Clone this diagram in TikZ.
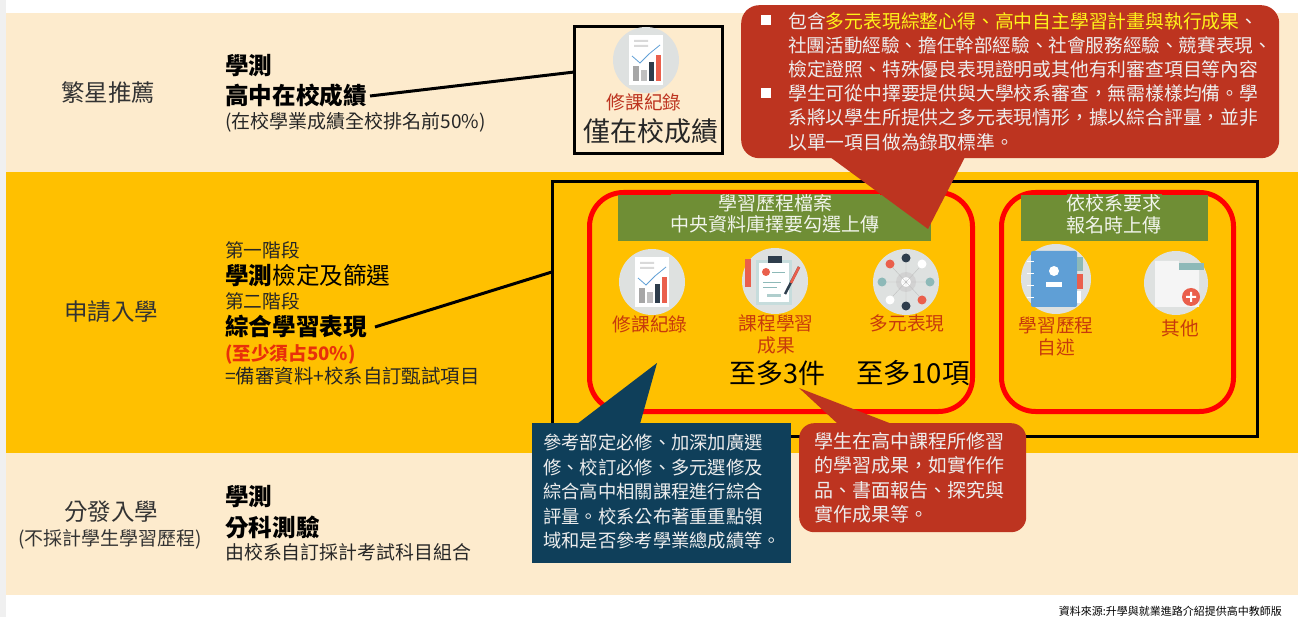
\documentclass[tikz,border=0pt]{standalone}
\usepackage{fontspec}
\setmainfont{Noto Sans CJK TC}
\usetikzlibrary{calc}
\definecolor{bandcream}{HTML}{FDEBCD}
\definecolor{bandgold}{HTML}{FFC000}
\definecolor{callred}{HTML}{BD3420}
\definecolor{callblue}{HTML}{0F3F5A}
\definecolor{headgreen}{HTML}{6F8E35}
\definecolor{labelred}{HTML}{C73A0C}
\definecolor{notered}{HTML}{E8300A}
\definecolor{icongray}{HTML}{DEE1E0}
\definecolor{icondark}{HTML}{2E3D4C}
\definecolor{iconteal}{HTML}{8DB9B8}
\definecolor{iconred}{HTML}{EA5F4C}
\definecolor{iconblue}{HTML}{5F9FD6}
\newcommand{\fs}[2]{\fontsize{#1}{#2}\selectfont}
\tikzset{
  chartdoc/.pic={
    \fill[icongray] (0,0) circle (33);
    \fill[white] (-17,-25) rectangle (17,25);
    \fill[black!15] (-12,-20) rectangle (2,-18) (-12,-15) rectangle (2,-13);
    \fill[gray!70] (-13,6) rectangle (-7,21);
    \fill[gray!50] (-5,10) rectangle (1,21);
    \fill[icondark] (3,2) rectangle (8,21);
    \fill[iconred] (10,-5) rectangle (15,21);
    \draw[iconblue,thick] (-14,-4) -- (-6,3) -- (3,-6) -- (14,-15);
  },
  clipdoc/.pic={
    \fill[icongray] (0,0) circle (33);
    \fill[iconteal!50] (-19,-21) rectangle (17,24);
    \fill[white] (-16,-18) rectangle (14,21);
    \fill[icondark] (-7,-25) rectangle (7,-18);
    \fill[iconred] (-30,-22) rectangle (-24,6);
    \fill[iconred] (-9,-9) circle (4);
    \draw[iconteal] (-3,-9) -- (10,-9) (-12,1) -- (6,1) (-12,6) -- (2,6);
    \draw[iconteal!70,line width=3pt] (-8,15) -- (6,15);
    \draw[icondark,line width=2.5pt] (10,13) -- (24,-14);
    \draw[iconred,line width=2.5pt] (16,2) -- (24,-14);
  },
  netdoc/.pic={
    \fill[icongray] (0,0) circle (33);
    \fill[gray!35] (0,0) circle (10);
    \fill[white] (0,0) circle (5);
    \fill[icondark] (0,-24) circle (4.5) (0,24) circle (4.5);
    \fill[iconred] (-16,-18) circle (4.5) (16,18) circle (4.5);
    \fill[white] (16,-18) circle (4.5) (-16,18) circle (4.5);
    \fill[iconteal] (-24,0) circle (4.5) (24,0) circle (4.5);
    \draw[gray!50] (0,-20) -- (0,20) (-20,0) -- (20,0) (-13,-14) -- (13,14) (13,-14) -- (-13,14);
  },
  notedoc/.pic={
    \fill[icongray] (0,0) circle (35);
    \fill[iconblue,rounded corners=2pt] (-25,-28) rectangle (21,28);
    \fill[iconteal] (21,-22) rectangle (27,-8);
    \fill[iconred] (21,-5) rectangle (27,10);
    \fill[white] (21,12) rectangle (25,24);
    \fill[white] (-2,-8) circle (5);
    \fill[white] (-10,8) rectangle (6,3);
    \draw[white,thick] (-29,-18) -- (-22,-18) (-29,-6) -- (-22,-6) (-29,6) -- (-22,6) (-29,18) -- (-22,18);
  },
  folderdoc/.pic={
    \fill[icongray] (0,0) circle (32);
    \fill[white!92!gray] (-21,-22) -- (3,-22) -- (3,-14) -- (23,-14) -- (23,24) -- (-21,24) -- cycle;
    \fill[iconteal] (3,-20) rectangle (28,-13);
    \fill[iconred] (15,14) circle (9);
    \fill[white] (10,13) rectangle (20,15) (14,9) rectangle (16,19);
  },
  band/.style={fill=#1,draw=none,inner sep=0pt,anchor=north west},
  entry/.style={anchor=west,inner sep=0pt,text=black!85,font=\fs{18.7}{22}},
  entrybold/.style={anchor=west,inner sep=0pt,text=black,font=\fs{23.6}{28}\bfseries},
  route/.style={anchor=center,inner sep=0pt,align=center,text=black!80,font=\fs{23.5}{27}},
  link/.style={line width=3pt,black},
  frame/.style={draw=black,line width=3pt,inner sep=0pt,outer sep=0pt,anchor=north west},
  redframe/.style={draw=red,line width=5pt,rounded corners=34pt,inner sep=0pt,outer sep=0pt,anchor=north west},
  head/.style={fill=headgreen,text=white!90!headgreen,inner sep=0pt,align=center,anchor=north west,font=\fs{19}{21.5}},
  itemlabel/.style={anchor=center,inner sep=0pt,align=center,text=labelred,font=\fs{18.7}{22}},
  limit/.style={anchor=center,inner sep=0pt,text=black,font=\fs{27}{30}},
  callbox/.style={fill=#1,rounded corners=18pt,inner sep=0pt,anchor=north west},
  calltext/.style={anchor=north west,inner sep=0pt,align=left,text=white!93!black},
}
\begin{document}
\begin{tikzpicture}[x=1pt,y=-1pt]
  \useasboundingbox (0,0) rectangle (1298,617);
  \fill[white] (0,0) rectangle (1298,617);
  \fill[black!6] (0,0) rectangle (6,617);

  \node[band=bandcream,minimum width=1292pt,minimum height=159pt] (bandtop) at (6,13) {};
  \node[band=bandgold,minimum width=1292pt,minimum height=281pt] (bandmid) at (6,172) {};
  \node[band=bandcream,minimum width=1292pt,minimum height=142pt] (bandlow) at (6,453) {};

  \node[route] (star) at (108,93) {繁星推薦};
  \node[route] (apply) at (111,312) {申請入學};
  \node[route] (place) at (111,512) {分發入學};
  \node[route,font=\fs{19}{22}] (placenote) at (110,539) {(不採計學生學習歷程)};

  \node[entrybold] (startest) at (225,66) {學測};
  \node[entrybold] (starscore) at (225,96) {高中在校成績};
  \node[entry,font=\fs{19}{22}] (starnote) at (225,122) {(在校學業成績全校排名前50\%)};

  \node[entry] (stageone) at (225,250) {第一階段};
  \node[entrybold] (stageonetext) at (225,276) {學測\mdseries 檢定及篩選};
  \node[entry] (stagetwo) at (225,301) {第二階段};
  \node[entrybold] (stagetwotext) at (225,327) {綜合學習表現};
  \node[entry,text=notered,font=\fs{18.6}{22}\bfseries] (stagenote) at (225,354) {(至少須占50\%)};
  \node[entry,font=\fs{19.4}{22}] (stagesum) at (225,376) {=備審資料+校系自訂甄試項目};

  \node[entrybold] (placetest) at (225,497) {學測};
  \node[entrybold] (placeexam) at (225,527) {分科測驗};
  \node[entry,font=\fs{18.9}{22}] (placenote2) at (225,552) {由校系自訂採計考試科目組合};

  \node[frame,minimum width=148pt,minimum height=127pt] (scorebox) at (574,27) {};
  \pic at (646,60) {chartdoc};
  \node[itemlabel,text=callred] (scorelabel) at (644,102) {修課紀錄};
  \node[limit,text=black!85] (scoretext) at (651,131) {僅在校成績};

  \node[frame,minimum width=705pt,minimum height=254pt] (portfolio) at (552,182) {};

  \draw[link] ($(starscore.east)+(3,0)$) -- (scorebox.166);
  \draw[link] ($(stagetwotext.east)+(8,0)$) -- (portfolio.174);

  \node[redframe,minimum width=383pt,minimum height=219pt] (central) at (589.5,192.5) {};
  \node[redframe,minimum width=232pt,minimum height=219pt] (upload) at (1001.5,192.5) {};

  \node[head,minimum width=313pt,minimum height=46pt] (centralhead) at (618,195) {};
  \node[head,anchor=center] (centraltext) at (775,214) {學習歷程檔案\\中央資料庫擇要勾選上傳};
  \node[head,minimum width=187pt,minimum height=46pt] (uploadhead) at (1021,195) {};
  \node[head,anchor=center] (uploadtext) at (1114,214) {依校系要求\\報名時上傳};

  \pic at (652,282) {chartdoc};
  \pic at (775,281) {clipdoc};
  \pic at (906,282) {netdoc};
  \pic at (1056,279) {notedoc};
  \pic at (1176,283) {folderdoc};

  \node[itemlabel] (record) at (650,324) {修課紀錄};
  \node[itemlabel] (course) at (776,334) {課程學習\\成果};
  \node[itemlabel] (multi) at (907,323) {多元表現};
  \node[itemlabel] (self) at (1056,336) {學習歷程\\自述};
  \node[itemlabel] (other) at (1180,328) {其他};

  \node[limit] (limitthree) at (777,373) {至多3件};
  \node[limit,font=\fs{27.5}{30}] (limitten) at (913,373) {至多10項};

  % callouts
  \node[callbox=callred,minimum width=538pt,minimum height=153pt] (calltop) at (741,5) {};
  \coordinate (calltopa) at (830,157);
  \coordinate (calltopb) at (965,157);
  \coordinate (calltoptip) at (928,229);
  \fill[callred] (calltopa) -- (calltoptip) -- (calltopb) -- cycle;
  \node[fill=white,minimum size=10pt,inner sep=0pt] (bulletone) at (766,20) {};
  \node[fill=white,minimum size=10pt,inner sep=0pt] (bullettwo) at (766,93) {};
  \node[calltext,font=\fs{18.8}{24.2}] (calltoptext) at (788,12) {包含\textcolor{yellow!90!white}{多元表現綜整心得、高中自主學習計畫與執行成果}、\\{\fs{18.6}{24.2}社團活動經驗、擔任幹部經驗、社會服務經驗、競賽表現、}\\檢定證照、特殊優良表現證明或其他有利審查項目等內容\\學生可從中擇要提供與大學校系審查，無需樣樣均備。學\\系將以學生所提供之多元表現情形，據以綜合評量，並非\\以單一項目做為錄取標準。};

  \node[fill=callblue,inner sep=0pt,anchor=north west,minimum width=259pt,minimum height=140pt] (callleft) at (532,423) {};
  \coordinate (calllefta) at (577,424);
  \coordinate (callleftb) at (640,424);
  \coordinate (calllefttip) at (657,363);
  \fill[callblue] (calllefta) -- (calllefttip) -- (callleftb) -- cycle;
  \node[calltext,font=\fs{18.3}{24.5}] (calllefttext) at (543,434) {參考部定必修、加深加廣選\\修、校訂必修、多元選修及\\綜合高中相關課程進行綜合\\評量。校系公布著重重點領\\域和是否參考學業總成績等。};

  \node[callbox=callred,rounded corners=15pt,minimum width=227pt,minimum height=109pt] (callright) at (799,423) {};
  \coordinate (callrighta) at (838,424);
  \coordinate (callrightb) at (892,424);
  \coordinate (callrighttip) at (799,388);
  \fill[callred] (callrighta) -- (callrighttip) -- (callrightb) -- cycle;
  \node[calltext,font=\fs{19}{24.4}] (callrighttext) at (814,432) {學生在高中課程所修習\\的學習成果，如實作作\\品、書面報告、探究與\\實作成果等。};

  \node[anchor=east,inner sep=0pt,text=black,font=\fs{11}{13}] (source) at (1282,611) {資料來源:升學與就業進路介紹提供高中教師版};
\end{tikzpicture}
\end{document}
